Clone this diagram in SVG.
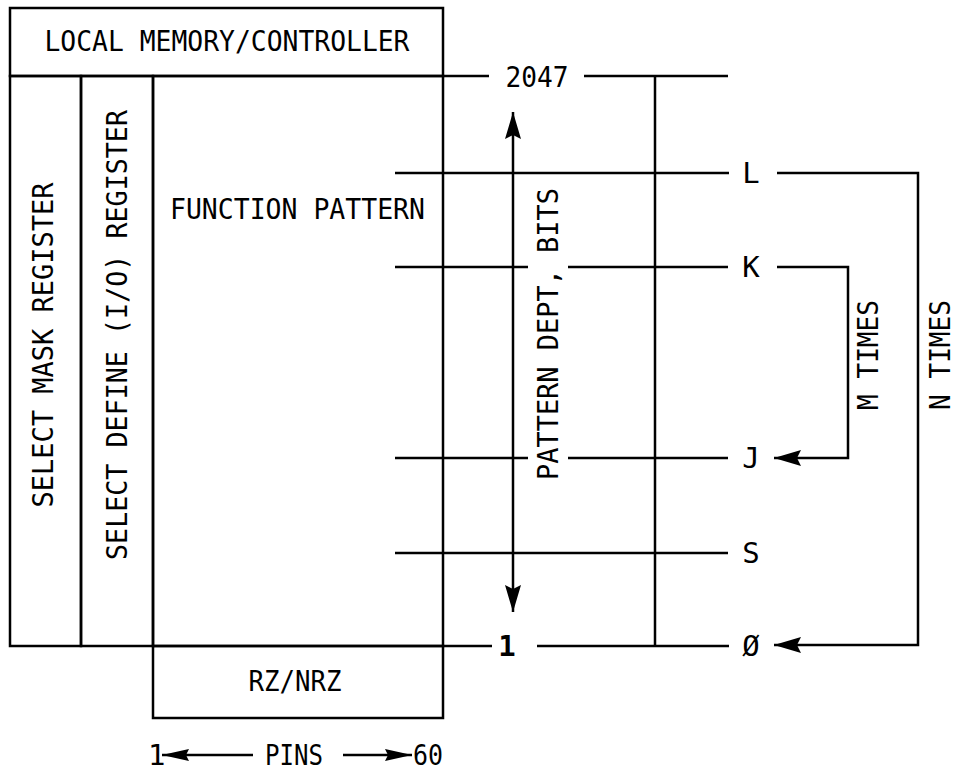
<svg xmlns="http://www.w3.org/2000/svg" width="962" height="771" viewBox="0 0 962 771">
  <style>
    .bx { fill: none; stroke: #000; stroke-width: 2.5; }
    .ln { fill: none; stroke: #000; stroke-width: 2.5; }
    .t { font-family: "DejaVu Sans Mono", "Liberation Mono", monospace; font-size: 29px; fill: #000; }
    .c { text-anchor: middle; }
    .b { font-weight: bold; }
  </style>
  <defs>
    <marker id="ah" viewBox="0 0 27 16" refX="27" refY="8" markerWidth="27" markerHeight="16" markerUnits="userSpaceOnUse" orient="auto">
      <path d="M0,0 L27,8 L0,16 L4,8 z" fill="#000"/>
    </marker>
    <marker id="ahs" viewBox="0 0 27 12" refX="27" refY="6" markerWidth="27" markerHeight="12" markerUnits="userSpaceOnUse" orient="auto">
      <path d="M0,0 L27,6 L0,12 L3,6 z" fill="#000"/>
    </marker>
  </defs>
  <rect width="962" height="771" fill="#fff"/>

  <g id="local-memory-controller">
    <rect class="bx" x="10" y="8" width="433" height="68"/>
    <text class="t c" x="227" y="51" textLength="365" lengthAdjust="spacingAndGlyphs">LOCAL MEMORY/CONTROLLER</text>
  </g>
  <g id="select-mask-register">
    <rect class="bx" x="10" y="76" width="71" height="570"/>
    <text class="t c" transform="translate(53,345) rotate(-90)" textLength="325" lengthAdjust="spacingAndGlyphs">SELECT MASK REGISTER</text>
  </g>
  <g id="select-define-register">
    <rect class="bx" x="81" y="76" width="72" height="570"/>
    <text class="t c" transform="translate(127,335) rotate(-90)" textLength="450" lengthAdjust="spacingAndGlyphs">SELECT DEFINE (I/O) REGISTER</text>
  </g>
  <g id="function-pattern">
    <rect class="bx" x="153" y="76" width="290" height="570"/>
    <text class="t" x="170" y="219" textLength="255" lengthAdjust="spacingAndGlyphs">FUNCTION PATTERN</text>
  </g>
  <g id="rz-nrz">
    <rect class="bx" x="153" y="646" width="290" height="72"/>
    <text class="t c" x="295" y="691" textLength="93" lengthAdjust="spacingAndGlyphs">RZ/NRZ</text>
  </g>

  <g id="level-2047">
    <text class="t c" x="537" y="87" textLength="63" lengthAdjust="spacingAndGlyphs">2047</text>
  </g>
  <g id="level-L"><text class="t c" x="751" y="183">L</text></g>
  <g id="level-K"><text class="t c" x="751" y="277">K</text></g>
  <g id="level-J"><text class="t c" x="751" y="468">J</text></g>
  <g id="level-S"><text class="t c" x="751" y="563">S</text></g>
  <g id="level-0"><text class="t c" x="751" y="656">Ø</text></g>
  <g id="level-1"><text class="t c b" x="507" y="656">1</text></g>

  <g id="labels">
    <text class="t c" transform="translate(558,334) rotate(-90)" textLength="292" lengthAdjust="spacingAndGlyphs">PATTERN DEPT, BITS</text>
    <text class="t c" transform="translate(878,355) rotate(-90)" textLength="110" lengthAdjust="spacingAndGlyphs">M TIMES</text>
    <text class="t c" transform="translate(950,355) rotate(-90)" textLength="110" lengthAdjust="spacingAndGlyphs">N TIMES</text>
    <text class="t" x="148" y="765">1</text>
    <text class="t" x="265" y="765" textLength="58" lengthAdjust="spacingAndGlyphs">PINS</text>
    <text class="t" x="413" y="765" textLength="30" lengthAdjust="spacingAndGlyphs">60</text>
  </g>

  <g id="connectors">
    <line class="ln" x1="443" y1="76" x2="489" y2="76"/>
    <line class="ln" x1="584" y1="76" x2="728" y2="76"/>
    <line class="ln" x1="443" y1="646" x2="492" y2="646"/>
    <line class="ln" x1="537" y1="646" x2="729" y2="646"/>
    <line class="ln" x1="395" y1="173" x2="729" y2="173"/>
    <line class="ln" x1="395" y1="267" x2="528" y2="267"/>
    <line class="ln" x1="568" y1="267" x2="728" y2="267"/>
    <line class="ln" x1="395" y1="458" x2="528" y2="458"/>
    <line class="ln" x1="568" y1="458" x2="728" y2="458"/>
    <line class="ln" x1="395" y1="553" x2="728" y2="553"/>
    <line class="ln" x1="655" y1="76" x2="655" y2="646"/>
    <line class="ln" x1="513" y1="362" x2="513" y2="112" marker-end="url(#ah)"/>
    <line class="ln" x1="513" y1="362" x2="513" y2="612" marker-end="url(#ah)"/>
    <polyline class="ln" points="777,173 918,173 918,645 774,645" marker-end="url(#ah)"/>
    <polyline class="ln" points="777,267 848,267 848,458 774,458" marker-end="url(#ah)"/>
    <line class="ln" x1="253" y1="755" x2="162" y2="755" marker-end="url(#ahs)"/>
    <line class="ln" x1="343" y1="755" x2="412" y2="755" marker-end="url(#ahs)"/>
  </g>
</svg>
